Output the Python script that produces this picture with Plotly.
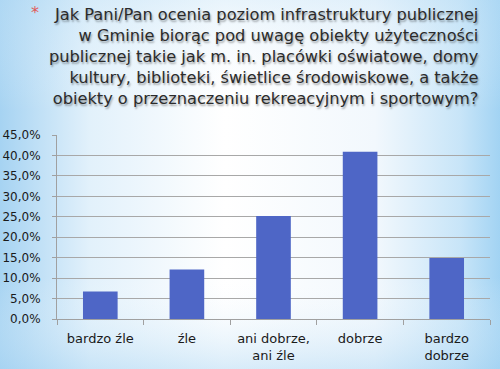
import base64
import plotly.graph_objects as go

categories = ["bardzo źle", "źle", "ani dobrze,<br>ani źle", "dobrze", "bardzo<br>dobrze"]
values = [6.7, 12.1, 25.2, 40.9, 14.9]
y_ticks = [0, 5, 10, 15, 20, 25, 30, 35, 40, 45]
y_tick_labels = ["0,0%", "5,0%", "10,0%", "15,0%", "20,0%", "25,0%", "30,0%", "35,0%", "40,0%", "45,0%"]
title_lines = [
    "Jak Pani/Pan ocenia poziom infrastruktury publicznej",
    "w Gminie biorąc pod uwagę obiekty użyteczności",
    "publicznej takie jak m. in. placówki oświatowe, domy",
    "kultury, biblioteki, świetlice środowiskowe, a także",
    "obiekty o przeznaczeniu rekreacyjnym i sportowym?",
]

W, H = 500, 369
ML, MR, MT, MB = 57, 10, 135, 50
PW, PH = W - ML - MR, H - MT - MB

svg = f"""<svg xmlns='http://www.w3.org/2000/svg' width='{W}' height='{H}' preserveAspectRatio='none'>
<defs>
<linearGradient id='h' x1='0' y1='0' x2='1' y2='0'>
<stop offset='0' stop-color='#a6d3f2'/>
<stop offset='0.18' stop-color='#e2f1fb'/>
<stop offset='0.45' stop-color='#ffffff'/>
<stop offset='0.75' stop-color='#f2f8fd'/>
<stop offset='0.92' stop-color='#c8e5f8'/>
<stop offset='1' stop-color='#a2d3f3'/>
</linearGradient>
<linearGradient id='v' x1='0' y1='0' x2='0' y2='1'>
<stop offset='0' stop-color='#bfe0f6' stop-opacity='0.35'/>
<stop offset='0.3' stop-color='#ffffff' stop-opacity='0'/>
<stop offset='0.75' stop-color='#ffffff' stop-opacity='0'/>
<stop offset='1' stop-color='#a8d4f2' stop-opacity='0.45'/>
</linearGradient>
</defs>
<rect width='{W}' height='{H}' fill='url(#h)'/>
<rect width='{W}' height='{H}' fill='url(#v)'/>
</svg>"""
bg_src = "data:image/svg+xml;base64," + base64.b64encode(svg.encode()).decode()

fig = go.Figure(go.Bar(
    x=categories, y=values,
    marker=dict(color="#4e66c6", line=dict(width=0)),
    width=0.4,
))

fig.update_layout(
    width=W, height=H,
    margin=dict(l=ML, r=MR, t=MT, b=MB),
    paper_bgcolor="white",
    plot_bgcolor="rgba(0,0,0,0)",
    showlegend=False,
    font=dict(family="DejaVu Sans", color="#333333"),
    xaxis=dict(
        type="category",
        tickson="boundaries",
        automargin=False,
        ticks="outside", ticklen=5, tickcolor="#a0a0a0",
        showline=True, linecolor="#a0a0a0", linewidth=1,
        showgrid=False,
        ticklabelstandoff=7,
        tickfont=dict(family="DejaVu Sans", size=13, color="#1a1a1a"),
    ),
    yaxis=dict(
        range=[0, 45],
        automargin=False,
        tickvals=y_ticks, ticktext=y_tick_labels,
        showline=True, linecolor="#a0a0a0", linewidth=1,
        showgrid=True, gridcolor="#a8a8a8", gridwidth=1,
        zeroline=False,
        ticks="outside", ticklen=4, tickcolor="#a0a0a0",
        ticklabelstandoff=9,
        tickfont=dict(family="DejaVu Sans", size=12, color="#1a1a1a"),
    ),
    images=[dict(
        source=bg_src, xref="paper", yref="paper",
        x=-ML / PW, y=1 + MT / PH, sizex=W / PW, sizey=H / PH,
        xanchor="left", yanchor="top", sizing="stretch", layer="below",
    )],
    annotations=[
        dict(
            text="<br>".join(title_lines),
            xref="paper", yref="paper",
            x=(481 - ML) / PW, y=1 + (MT - 3) / PH,
            xanchor="right", yanchor="top", align="right",
            showarrow=False,
            font=dict(family="DejaVu Sans", size=16.2, color="#2b2b2b",
                      shadow="1px 2px 2px rgba(0,0,0,0.35)"),
        ),
        dict(
            text="*",
            xref="paper", yref="paper",
            x=(35 - ML) / PW, y=1 + (MT - 1) / PH,
            xanchor="center", yanchor="top",
            showarrow=False,
            font=dict(family="DejaVu Sans", size=16, color="#e05a5a"),
        ),
    ],
)

fig.write_html("out.html")
